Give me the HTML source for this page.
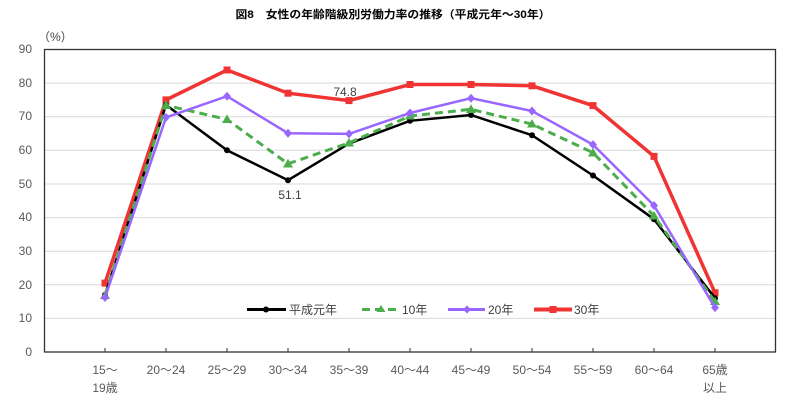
<!DOCTYPE html>
<html><head><meta charset="utf-8"><style>
html,body{margin:0;padding:0;background:#fff;}
svg{display:block;font-family:"Liberation Sans","Noto Sans CJK JP",sans-serif;}
</style></head><body>
<svg width="800" height="407" viewBox="0 0 800 407" xmlns="http://www.w3.org/2000/svg">
<text x="393" y="18" text-anchor="middle" font-size="11" font-weight="bold" fill="#000" textLength="315" lengthAdjust="spacingAndGlyphs">図8　女性の年齢階級別労働力率の推移（平成元年～30年）</text>
<text x="38" y="41" font-size="12" fill="#444">（%）</text>
<g stroke="#d9d9d9" stroke-width="1">
<line x1="45" x2="775" y1="318.4" y2="318.4"/><line x1="45" x2="775" y1="284.8" y2="284.8"/>
<line x1="45" x2="775" y1="251.2" y2="251.2"/><line x1="45" x2="775" y1="217.6" y2="217.6"/>
<line x1="45" x2="775" y1="184" y2="184"/><line x1="45" x2="775" y1="150.3" y2="150.3"/>
<line x1="45" x2="775" y1="116.7" y2="116.7"/><line x1="45" x2="775" y1="83.1" y2="83.1"/>
</g>
<rect x="44.5" y="49.5" width="731" height="302.5" fill="none" stroke="#333" stroke-width="1.3"/>
<g stroke="#333" stroke-width="1">
<line x1="105" x2="105" y1="348" y2="352"/><line x1="166" x2="166" y1="348" y2="352"/><line x1="227" x2="227" y1="348" y2="352"/><line x1="288" x2="288" y1="348" y2="352"/><line x1="349" x2="349" y1="348" y2="352"/><line x1="410" x2="410" y1="348" y2="352"/><line x1="471" x2="471" y1="348" y2="352"/><line x1="532" x2="532" y1="348" y2="352"/><line x1="593" x2="593" y1="348" y2="352"/><line x1="654" x2="654" y1="348" y2="352"/><line x1="715" x2="715" y1="348" y2="352"/>
</g>
<g font-size="12" fill="#595959" text-anchor="end">
<text x="32" y="356">0</text><text x="32" y="322">10</text><text x="32" y="289">20</text><text x="32" y="255">30</text><text x="32" y="221">40</text><text x="32" y="188">50</text><text x="32" y="154">60</text><text x="32" y="120">70</text><text x="32" y="87">80</text><text x="32" y="53">90</text>
</g>
<g font-size="12" fill="#595959" text-anchor="middle">
<text x="105" y="374">15～</text><text x="105" y="392">19歳</text>
<text x="166" y="374">20～24</text><text x="227" y="374">25～29</text><text x="288" y="374">30～34</text><text x="349" y="374">35～39</text><text x="410" y="374">40～44</text><text x="471" y="374">45～49</text><text x="532" y="374">50～54</text><text x="593" y="374">55～59</text><text x="654" y="374">60～64</text>
<text x="715" y="374">65歳</text><text x="715" y="392">以上</text>
</g>
<polyline fill="none" stroke="#f03333" stroke-width="3.5" points="105,283.1 166,99.9 227,70 288,93.2 349,100.6 410,84.5 471,84.5 532,85.8 593,105.6 654,156.4 715,292.8"/>
<g fill="#f03333">
<rect x="101.5" y="279.6" width="7" height="7"/><rect x="162.5" y="96.4" width="7" height="7"/><rect x="223.5" y="66.5" width="7" height="7"/><rect x="284.5" y="89.7" width="7" height="7"/><rect x="345.5" y="97.1" width="7" height="7"/><rect x="406.5" y="81" width="7" height="7"/><rect x="467.5" y="81" width="7" height="7"/><rect x="528.5" y="82.3" width="7" height="7"/><rect x="589.5" y="102.1" width="7" height="7"/><rect x="650.5" y="152.9" width="7" height="7"/><rect x="711.5" y="289.3" width="7" height="7"/>
</g>
<polyline fill="none" stroke="#000" stroke-width="2.5" points="105,294.9 166,104.9 227,150.3 288,180.2 349,143.6 410,120.8 471,115 532,135.2 593,175.5 654,219.2 715,298.2"/>
<g fill="#000">
<circle cx="105" cy="294.9" r="3"/><circle cx="166" cy="104.9" r="3"/><circle cx="227" cy="150.3" r="3"/><circle cx="288" cy="180.2" r="3"/><circle cx="349" cy="143.6" r="3"/><circle cx="410" cy="120.8" r="3"/><circle cx="471" cy="115" r="3"/><circle cx="532" cy="135.2" r="3"/><circle cx="593" cy="175.5" r="3"/><circle cx="654" cy="219.2" r="3"/><circle cx="715" cy="298.2" r="3"/>
</g>
<polyline fill="none" stroke="#4cad4c" stroke-width="3" stroke-dasharray="8,5" points="105,295.5 166,105.3 227,119.4 288,163.8 349,142.9 410,116 471,109.3 532,124.1 593,152.7 654,215.9 715,301.6"/>
<g fill="#4cad4c">
<polygon points="105,290.5 110,299 100,299"/><polygon points="166,100.3 171,109 161,109"/><polygon points="227,114.4 232,123 222,123"/><polygon points="288,158.8 293,167.5 283,167.5"/><polygon points="349,137.9 354,146.5 344,146.5"/><polygon points="410,111 415,119.5 405,119.5"/><polygon points="471,104.3 476,113 466,113"/><polygon points="532,119.1 537,127.5 527,127.5"/><polygon points="593,147.7 598,156.5 588,156.5"/><polygon points="654,210.9 659,219.5 649,219.5"/><polygon points="715,296.6 720,305 710,305"/>
</g>
<polyline fill="none" stroke="#9966ff" stroke-width="2.5" points="105,297.5 166,117.4 227,96.2 288,133.2 349,133.9 410,113 471,98.2 532,111 593,144.6 654,205.5 715,307.6"/>
<g fill="#9966ff">
<polygon points="105,293 109,297.5 105,302 101,297.5"/><polygon points="166,112.9 170,117.4 166,121.9 162,117.4"/><polygon points="227,91.7 231,96.2 227,100.7 223,96.2"/><polygon points="288,128.7 292,133.2 288,137.7 284,133.2"/><polygon points="349,129.4 353,133.9 349,138.4 345,133.9"/><polygon points="410,108.5 414,113 410,117.5 406,113"/><polygon points="471,93.7 475,98.2 471,102.7 467,98.2"/><polygon points="532,106.5 536,111 532,115.5 528,111"/><polygon points="593,140.1 597,144.6 593,149.1 589,144.6"/><polygon points="654,201 658,205.5 654,210 650,205.5"/><polygon points="715,303.1 719,307.6 715,312.1 711,307.6"/>
</g>
<text x="345" y="96" font-size="12" fill="#404040" text-anchor="middle">74.8</text>
<text x="290" y="199" font-size="12" fill="#404040" text-anchor="middle">51.1</text>
<g font-size="12" fill="#404040">
<line x1="247" x2="286" y1="309.5" y2="309.5" stroke="#000" stroke-width="3"/><circle cx="266" cy="309.5" r="3" fill="#000"/>
<text x="289" y="314">平成元年</text>
<line x1="362" x2="399" y1="309.5" y2="309.5" stroke="#4cad4c" stroke-width="3" stroke-dasharray="8,5"/><polygon points="381,305 385.5,312 376.5,312" fill="#4cad4c"/>
<text x="402" y="314">10年</text>
<line x1="448" x2="485" y1="309.5" y2="309.5" stroke="#9966ff" stroke-width="3"/><polygon points="467,305.5 471,309.5 467,313.5 463,309.5" fill="#9966ff"/>
<text x="488" y="314">20年</text>
<line x1="534" x2="572" y1="309.5" y2="309.5" stroke="#f03333" stroke-width="4"/><rect x="549.5" y="306" width="7" height="7" fill="#f03333"/>
<text x="574" y="314">30年</text>
</g>
</svg>
</body></html>
